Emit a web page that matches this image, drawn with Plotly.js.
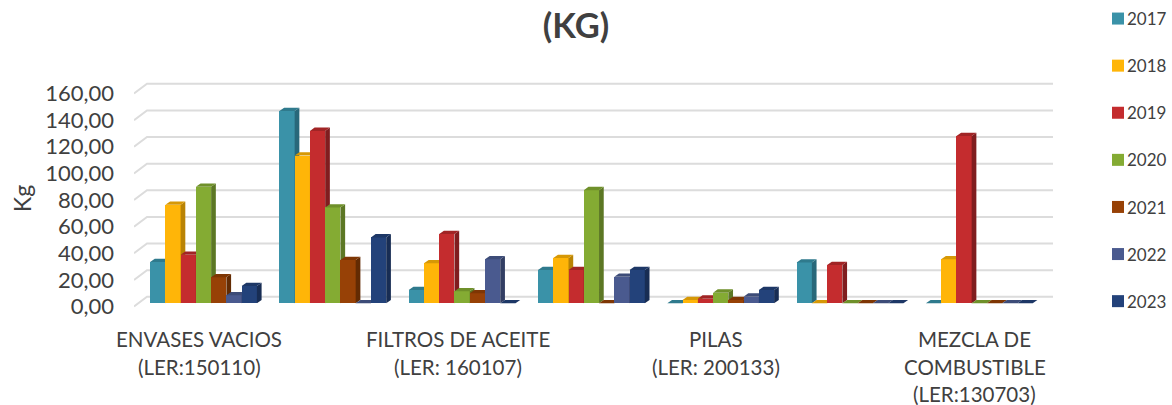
<!DOCTYPE html>
<html>
<head>
<meta charset="utf-8">
<script src="https://cdn.plot.ly/plotly-3.0.1.min.js"></script>
<style>html,body{margin:0;padding:0;background:#fff}#chart{width:1172px;height:405px}</style>
</head>
<body>
<div id="chart"></div>
<script>
// Data
var years = ['2017','2018','2019','2020','2021','2022','2023'];
var v2017 = [31, 144.5, 10, 25, 0, 30.7, 0];
var v2018 = [74, 111, 30, 34, 2.5, 0, 33];
var v2019 = [36.5, 129.5, 52, 25, 3.5, 28.7, 125.7];
var v2020 = [87.5, 72, 9, 85, 8, 0, 0];
var v2021 = [19.5, 32.5, 7.5, 0, 2.5, 0, 0];
var v2022 = [6, 0, 33, 20, 5, 0, 0];
var v2023 = [13, 49.5, 0, 25, 10, 0, 0];
var seriesValues = [v2017, v2018, v2019, v2020, v2021, v2022, v2023];
var tickValues = [0,20,40,60,80,100,120,140,160];
var tickLabels = ['0,00','20,00','40,00','60,00','80,00','100,00','120,00','140,00','160,00'];
var categoryLabels = [
  ['ENVASES VACIOS','(LER:150110)'],
  ['FILTROS DE ACEITE','(LER: 160107)'],
  ['PILAS','(LER: 200133)'],
  ['MEZCLA DE','COMBUSTIBLE','(LER:130703)']
];
var categoryPositions = [0, 2, 4, 6];

// Styles
var frontColors = ['#3a92a8','#ffb508','#c42c2e','#84ab33','#974106','#4a5a8f','#23427a'];
var sideColors  = ['#28687a','#b98304','#801d1f','#5c7724','#632b03','#323e63','#182d54'];
var topColors   = ['#2f7a8d','#d69806','#a12425','#6f902a','#7e3604','#3d4c78','#1d3766'];
var font = 'Lato, "Open Sans", sans-serif';
var textColor = '#404040';

// Geometry (pixels to axis units)
var W = 1172, H = 405;
var plotL = 134, plotR = 1060, plotT = 70, plotB = 320;
var pxPerUnit = 1.33125;       // y
var pxPerGroup = 129.3;        // x
var xRange = [(plotL-203.5)/pxPerGroup, (plotR-203.5)/pxPerGroup];
var yRange = [(306.5-plotB)/pxPerUnit, (306.5-plotT)/pxPerUnit];
var xDomain = [plotL/W, plotR/W];
var yDomain = [1-plotB/H, 1-plotT/H];
var barW = 0.118;
var depthX = 4.7/pxPerGroup, depthY = 3.3/pxPerUnit;
var barBase = 3.2/pxPerUnit;
var wallX = 13/pxPerGroup, wallY = 9.7/pxPerUnit;
var gridEnd = (1053-203.5)/pxPerGroup;

var traces = [];
// Back wall and side wall gridlines
var gx = [], gy = [];
tickValues.forEach(function(t){
  gx.push(xRange[0], xRange[0]+wallX, gridEnd, null);
  gy.push(t, t+wallY, t+wallY, null);
});
traces.push({type:'scatter',mode:'lines',x:gx,y:gy,hoverinfo:'skip',showlegend:false,
  line:{color:'#dcdcdc',width:2},xaxis:'x',yaxis:'y',cliponaxis:false});

var layout = {
  width:W, height:H, paper_bgcolor:'#fff', plot_bgcolor:'rgba(0,0,0,0)',
  margin:{l:0, r:0, t:0, b:0, pad:0},
  title:{text:'<b>(KG)</b>',font:{family:font,size:34.5,color:textColor},x:576/W,xanchor:'center',y:1-26/H,yanchor:'middle',automargin:false},
  showlegend:true,
  legend:{x:1080/W,xanchor:'left',y:1-1/H,yanchor:'top',
    font:{family:font,size:17,color:textColor},tracegroupgap:22,bgcolor:'rgba(0,0,0,0)',traceorder:'grouped',
    itemclick:false,itemdoubleclick:false},
  xaxis:{domain:xDomain,range:xRange,visible:false,fixedrange:true},
  yaxis:{domain:yDomain,range:yRange,tickmode:'array',tickvals:tickValues,ticktext:tickLabels,showgrid:false,zeroline:false,
    showline:false,ticks:'',ticklabelstandoff:19,tickfont:{family:font,size:22,color:textColor},fixedrange:true},
  annotations:[{text:'Kg',xref:'paper',yref:'paper',x:22/W,y:1-199/H,textangle:-90,showarrow:false,xanchor:'center',yanchor:'middle',
    font:{family:font,size:23,color:textColor}}],
  bargap:0
};

// One overlaid subplot per year so every bar hides the side face of the bar on its left
seriesValues.forEach(function(vals,s){
  var n = s+2, xa='x'+n, ya='y'+n;
  layout['xaxis'+n] = {domain:xDomain,range:xRange,visible:false,overlaying:'x',fixedrange:true};
  layout['yaxis'+n] = {domain:yDomain,range:yRange,visible:false,overlaying:'y',fixedrange:true};
  var xs = vals.map(function(_,g){return g+(s-3)*barW;});
  var sx=[],sy=[],tx=[],ty=[];
  vals.forEach(function(v,g){
    var l=xs[g]-barW/2, r=xs[g]+barW/2, top=barBase+v;
    sx.push(r,r,r+depthX,r+depthX,r,null);
    sy.push(barBase,top,top+depthY,barBase+depthY,barBase,null);
    tx.push(l,r,r+depthX,l+depthX,l,null);
    ty.push(top,top,top+depthY,top+depthY,top,null);
  });
  traces.push({type:'bar',name:years[s],x:xs,y:vals,base:barBase,width:barW,xaxis:xa,yaxis:ya,
    marker:{color:frontColors[s],line:{width:0}},legendgroup:years[s],hoverinfo:'y+name'});
  traces.push({type:'scatter',mode:'none',x:sx,y:sy,fill:'toself',fillcolor:sideColors[s],xaxis:xa,yaxis:ya,
    showlegend:false,hoverinfo:'skip',legendgroup:years[s]});
  traces.push({type:'scatter',mode:'none',x:tx,y:ty,fill:'toself',fillcolor:topColors[s],xaxis:xa,yaxis:ya,
    showlegend:false,hoverinfo:'skip',legendgroup:years[s]});
});

// Category labels, one annotation per line for the wide line spacing
categoryLabels.forEach(function(lines,i){
  lines.forEach(function(line,j){
    layout.annotations.push({text:line,xref:'x',yref:'paper',x:categoryPositions[i],
      xshift:-4.5,y:1-(339+27.5*j)/H,showarrow:false,xanchor:'center',yanchor:'middle',
      font:{family:font,size:20.5,color:textColor}});
  });
});

Plotly.newPlot('chart',traces,layout,{displayModeBar:false}).then(function(){
  // Bring legend swatches close to their labels, and slide the legend into its place
  document.querySelectorAll('#chart .legend .legendpoints').forEach(function(el){
    el.setAttribute('transform','translate(11,0)');
  });
  var lg = document.querySelector('#chart .legend');
  var m = /translate\(([-\d.]+)[ ,]+([-\d.]+)\)/.exec(lg.getAttribute('transform'));
  lg.setAttribute('transform','translate('+(parseFloat(m[1])+7)+','+m[2]+')');
});
</script>
</body>
</html>
